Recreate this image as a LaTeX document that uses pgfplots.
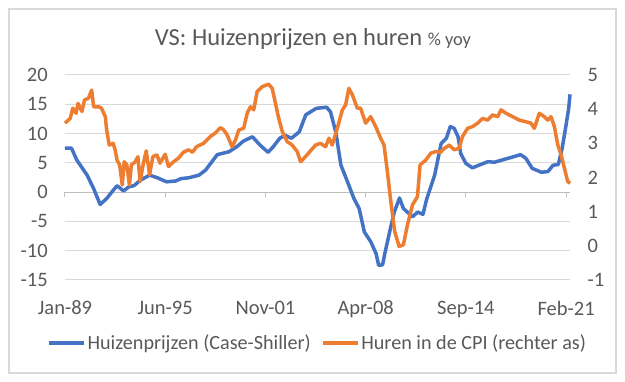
\documentclass[border=0pt]{standalone}
\usepackage{fontspec}
\setmainfont{Carlito}
\usepackage{pgfplots}
\pgfplotsset{compat=1.18}
\definecolor{cblue}{HTML}{4472C4}
\definecolor{corange}{HTML}{ED7D31}
\definecolor{ctext}{HTML}{595959}
\definecolor{cgrid}{HTML}{D9D9D9}
\definecolor{caxis}{HTML}{BFBFBF}
\pgfplotsset{
  common/.style={
    scale only axis, width=303pt, height=123pt,
    at={(39pt,61.2pt)}, anchor=south west,
    xmin=0, xmax=388,
    axis line style={draw=none}, tick style={draw=none},
    ticklabel style={font=\fontsize{12.3}{14}\selectfont, text=ctext},
    /pgf/number format/assume math mode=true,
    clip=false,
  }
}
\begin{document}
\begin{tikzpicture}
\useasboundingbox (0,0) rectangle (375pt,229.2pt);
\draw[cgrid, line width=0.8pt] (5.4pt,5.4pt) rectangle (369.6pt,223.8pt);
\node[text=ctext, anchor=base, inner sep=0pt] at (187.8pt,201.6pt) {\fontsize{14.7}{16}\selectfont VS: Huizenprijzen en huren {\fontsize{11}{12}\selectfont \% yoy}};

\begin{axis}[common,
  ymin=-15, ymax=20, ytick={-15,-10,...,20},
  ymajorgrids, grid style={cgrid, line width=0.6pt},
  xtick={0,77,154,231,308,385},
  xticklabels={Jan-89,Jun-95,Nov-01,Apr-08,Sep-14,Feb-21},
  xticklabel style={yshift=-9pt},
  yticklabel style={xshift=-6.8pt},
]
\draw[caxis, line width=0.6pt] (axis cs:0,0) -- (axis cs:388,0);
\pgfplotsinvokeforeach{0,77,154,231,308,385}{\draw[caxis, line width=0.6pt] (axis cs:#1,0) -- ([yshift=-3pt]axis cs:#1,0);}
\addplot[cblue, line width=2.1pt, line join=round] coordinates {
(0,7.5) (5,7.5) (9,5.5) (17,2.9) (22,0.6) (27,-2.1) (32,-1.1) (37,0.3) (40,1.1)
(45,0.2) (49,0.9) (53,1.1) (58,2.05) (65,2.9) (71,2.45) (78,1.76) (85,1.9) (89,2.3)
(95,2.45) (103,2.9) (108,3.76) (117,6.4) (126,6.9) (132,7.75) (137,8.7) (144,9.45)
(150,8.0) (156,6.8) (160,7.75) (165,9.2) (169,9.7) (174,9.2) (180,10.3) (185,13.2)
(193,14.3) (201,14.5) (204,13.7) (208,10.3) (212,4.6) (217,1.8) (222,-1.1) (226,-2.8)
(230,-6.8) (235,-8.5) (239,-10.5) (241,-12.5) (244,-12.4) (246,-10.2) (250,-6.2)
(253,-3.4) (257,-1.0) (260,-2.8) (267,-4.2) (271,-3.4) (275,-3.8) (278,-1.1) (284,2.9)
(289,8.3) (293,9.2) (296,11.2) (299,10.9) (302,9.45) (304,6.6) (308,4.9) (313,4.15)
(318,4.6) (325,5.2) (330,5.1) (336,5.5) (344,6.0) (350,6.4) (354,5.8) (359,4.05)
(366,3.4) (371,3.5) (375,4.6) (379,4.7) (382,7.5) (385,11.5) (387,14.3) (388,16.7)
};
\end{axis}

\begin{axis}[common,
  ymin=-1, ymax=5, ytick={-1,0,...,5},
  hide x axis,
  yticklabel pos=right,
  yticklabel style={xshift=7pt},
  legend style={at={(0.5,-0.307)}, anchor=center, draw=none, fill=none,
    font=\fontsize{12.1}{14}\selectfont, text=ctext, inner sep=0pt,
    nodes={inner sep=0.9pt},
    /tikz/every even column/.append style={column sep=5.4pt}},
  legend columns=2,
  legend image code/.code={\draw[#1] (0pt,0pt) -- (21pt,0pt);},
]
\addlegendimage{cblue, line width=2.1pt}
\addlegendentry{Huizenprijzen (Case-Shiller)}
\addplot[corange, line width=2.1pt, line join=round] coordinates {
(0,3.59) (4,3.73) (6,4.03) (8.5,3.88) (10,4.17) (13,3.93) (15,4.27) (18,4.32)
(20.5,4.56) (22,4.07) (26,4.07) (28,4.03) (31,3.78) (32,3.39) (34,2.95) (37,3.0)
(38.5,2.81) (40,2.51) (42,2.37) (44,1.78) (45.5,2.46) (47.5,2.37) (49.5,1.78) (51,2.37)
(54,2.46) (56,2.61) (57.7,1.88) (60,2.37) (62.4,2.78) (65,2.08) (67.5,2.61) (70.6,2.66)
(73,2.42) (77,2.68) (79.5,2.32) (83.4,2.46) (87,2.56) (91,2.74) (95,2.81) (98,2.74)
(101,2.9) (106.5,3.0) (111.6,3.2) (115.5,3.3) (119.4,3.46) (122,3.39) (124.5,3.25)
(128.4,2.9) (131,3.1) (133.5,3.39) (137.3,3.44) (140,3.88) (142.4,4.07) (145,3.98)
(147.6,4.51) (151.5,4.66) (156.5,4.73) (159.2,4.61) (161.7,4.17) (164.2,3.73) (167,3.34)
(170.7,3.05) (174.5,2.95) (178.4,2.76) (181,2.46) (184.8,2.61) (188.6,2.78) (192.5,2.95)
(196.3,3.0) (200.2,2.9) (202.8,3.15) (205.3,2.95) (209.2,3.44) (213.1,3.98) (215.6,4.12)
(218.1,4.61) (220.8,4.42) (224.6,4.03) (227.1,4.03) (231,3.59) (234.8,3.78) (238.7,3.49)
(242.5,3.15) (245.1,2.95) (247.7,2.17) (250.3,1.3) (253.3,0.42) (256.7,-0.02) (260,0.03)
(263.1,0.61) (267,1.2) (270.8,1.44) (272.8,2.37) (277.2,2.51) (281,2.71) (284.9,2.76)
(288.8,2.74) (290,2.81) (295.2,2.95) (299,2.81) (302.9,2.86) (305.4,3.2) (309.3,3.44)
(313.2,3.49) (317,3.59) (320.9,3.73) (324.7,3.68) (328.6,3.83) (332.4,3.78) (335,3.98)
(338.8,3.88) (344,3.78) (349,3.68) (354.2,3.63) (358,3.59) (360.6,3.44) (364.4,3.88)
(368.3,3.78) (370.9,3.68) (373.4,3.78) (376,3.49) (378.6,2.95) (381.2,2.66) (383.7,2.27)
(386.3,1.88) (388.1,1.83)
};
\addlegendentry{Huren in de CPI (rechter as)}
\end{axis}
\end{tikzpicture}
\end{document}
